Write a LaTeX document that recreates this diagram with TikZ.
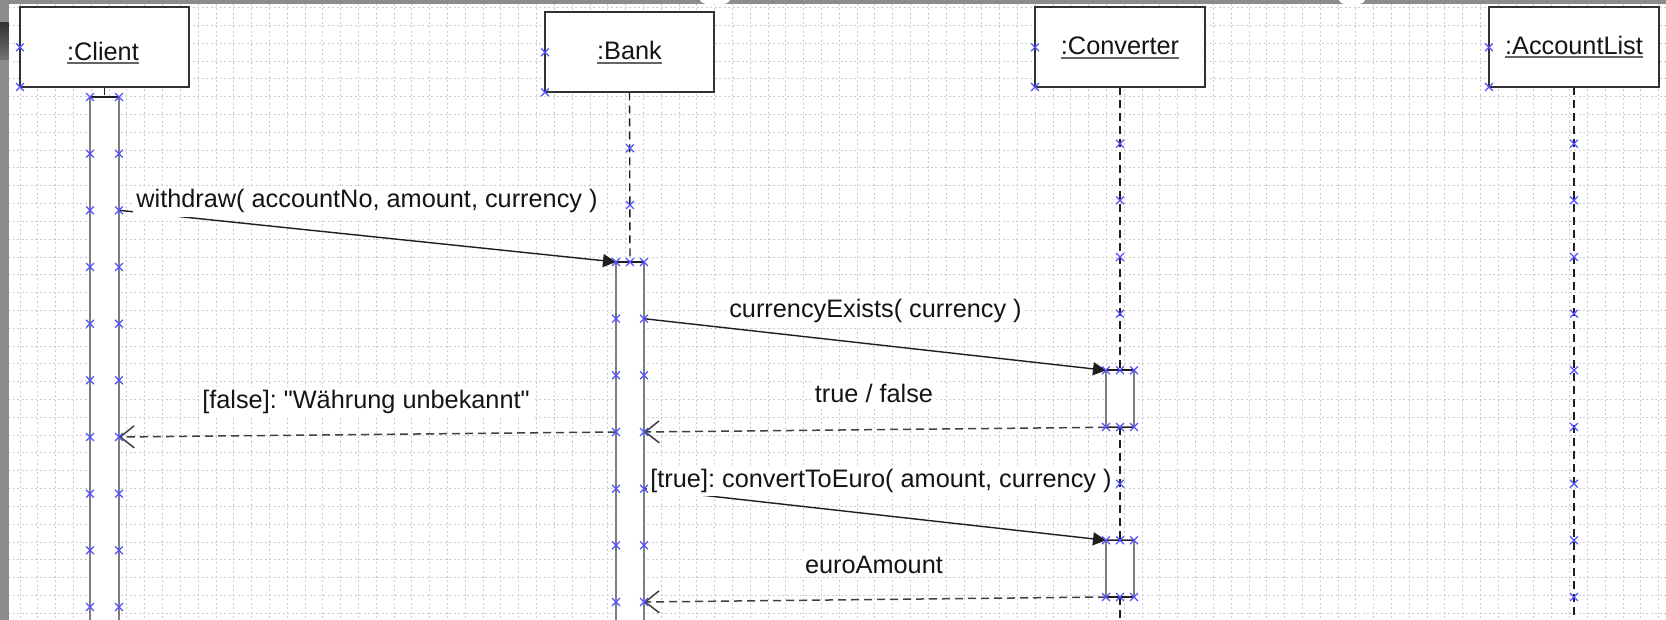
\documentclass[tikz,border=0pt]{standalone}
\usepackage{fontspec}
\setmainfont{Liberation Sans}
\newfontfamily\lsans{Liberation Sans}
\frenchspacing
\usetikzlibrary{arrows.meta,calc}
\definecolor{gridc}{RGB}{205,205,205}
\definecolor{markc}{RGB}{80,80,255}
\definecolor{barc}{RGB}{125,125,125}
\definecolor{linec}{RGB}{30,30,30}
\definecolor{boxc}{RGB}{50,50,50}
\definecolor{stripc}{RGB}{140,140,140}
\definecolor{txtc}{RGB}{20,20,20}
\definecolor{ulc}{RGB}{100,100,100}
\begin{document}
\begin{tikzpicture}[x=1pt,y=-1pt,
  gridline/.style={draw=gridc, line width=0.8pt, dash pattern=on 2pt off 2.5pt},
  objbox/.style={draw=boxc, line width=1.8pt, fill=white, minimum width=169.5pt, minimum height=80pt, inner sep=0pt, outer sep=0pt},
  objtitle/.style={inner sep=0pt, outer sep=0pt, font=\lsans\frenchspacing\fontsize{25.3}{30}\selectfont, text=txtc, anchor=base},
  titleline/.style={draw=ulc, line width=1.6pt},
  actbar/.style={draw=barc, line width=1.8pt, fill=white, inner sep=0pt, outer sep=0pt, anchor=north},
  baredge/.style={draw=linec, line width=1.6pt},
  lifeline/.style={draw=linec, line width=1.4pt, dash pattern=on 8pt off 5pt},
  msg/.style={draw=linec, line width=1.4pt, -{Triangle[length=13pt,width=13pt]}},
  ret/.style={draw=black!75, line width=1.5pt, dash pattern=on 8pt off 5pt, -{Straight Barb[length=14pt,width=22pt]}},
  lbl/.style={fill=white, inner xsep=3pt, inner ysep=4pt, outer sep=0pt, font=\lsans\frenchspacing\fontsize{25.3}{30}\selectfont, text=txtc, anchor=base},
  handle/.style={draw=markc, line width=1.2pt}
]
\clip (0,0) rectangle (1666,620);
\fill[white] (0,0) rectangle (1666,620);
% grid
\foreach \k in {0,...,92} {\draw[gridline] ({20+17.81*\k},4) -- ({20+17.81*\k},620);}
\foreach \k in {0,...,34} {\draw[gridline] (8,{7.6+17.81*\k}) -- (1666,{7.6+17.81*\k});}
% window edges
\fill[stripc] (0,0) rectangle (8.5,620);
\shade[top color=black!80, bottom color=black!55] (0,23) rectangle (8.5,60);
\fill[stripc] (0,0) rectangle (1666,4);
\fill[white] (715,0) ellipse [x radius=15pt, y radius=5pt];
\fill[white] (1352,0) ellipse [x radius=13pt, y radius=5pt];

% object boxes
\node[objbox] (client) at (104.5,47.3) {};
\node[objbox] (bank) at (629.5,52.3) {};
\node[objbox] (conv) at (1120,47.3) {};
\node[objbox] (alist) at (1574,47.3) {};
\node[objtitle] (tclient) at (103,60.5) {:Client};
\node[objtitle] (tbank) at (629.5,60) {:Bank};
\node[objtitle] (tconv) at (1120,55) {:Converter};
\node[objtitle] (talist) at (1574,54.5) {:AccountList};
\foreach \t in {tclient,tbank,tconv,talist}
  {\draw[titleline] ([yshift=-2.8pt]\t.base west) -- ([yshift=-2.8pt]\t.base east);}

% activation bars
\node[actbar, minimum width=29pt, minimum height=560pt] (cbar) at (104.5,97) {};
\node[actbar, minimum width=28pt, minimum height=400pt] (bbar) at (630,262) {};
\node[actbar, minimum width=28pt, minimum height=57pt] (vbar1) at (1120,370.3) {};
\node[actbar, minimum width=28pt, minimum height=56.7pt] (vbar2) at (1120,540.3) {};
\draw[baredge] (cbar.north west) -- (cbar.north east);
\draw[baredge] (bbar.north west) -- (bbar.north east);
\draw[baredge] (vbar1.north west) -- (vbar1.north east);
\draw[baredge] (vbar1.south west) -- (vbar1.south east);
\draw[baredge] (vbar2.north west) -- (vbar2.north east);
\draw[baredge] (vbar2.south west) -- (vbar2.south east);

% lifelines
\coordinate (cend) at (1120,625);
\coordinate (aend) at (1574,625);
\draw[lifeline] (client.south) -- (cbar.north);
\draw[lifeline] (bank.south) -- (bbar.north);
\draw[lifeline] (conv.south) -- (vbar1.north);
\draw[lifeline] (vbar1.south) -- (vbar2.north);
\draw[lifeline] (vbar2.south) -- (cend);
\draw[lifeline] (alist.south) -- (aend);

% messages
\coordinate (w0) at (cbar.east |- 0,210.3);
\coordinate (c0) at (bbar.east |- 0,318.7);
\coordinate (r1) at (bbar.east |- 0,432);
\coordinate (f0) at (bbar.west |- 0,432);
\coordinate (f1) at (cbar.east |- 0,437);
\coordinate (e0) at (bbar.east |- 0,488.7);
\coordinate (r2) at (bbar.east |- 0,602);
\draw[msg] (w0) -- (bbar.north west);
\draw[msg] (c0) -- (vbar1.north west);
\draw[ret] (vbar1.south west) -- (r1);
\draw[ret] (f0) -- (f1);
\draw[msg] (e0) -- (vbar2.north west);
\draw[ret] (vbar2.south west) -- (r2);

% message labels
\node[lbl] (l1) at (367,208) {withdraw( accountNo, amount, currency )};
\node[lbl] (l2) at (875.5,317.5) {currencyExists( currency )};
\node[lbl] (l3) at (874,402.5) {true / false};
\node[lbl] (l4) at (366,409) {[false]: "Währung unbekannt"};
\node[lbl] (l5) at (881,487) {[true]: convertToEuro( amount, currency )};
\node[lbl] (l6) at (874,573) {euroAmount};

% selection handles
\path[handle] plot[only marks, mark=x, mark size=5.5pt, mark options={draw=markc, line width=1.2pt}] coordinates {
 (20,47.3) (20,87) (545,52.3) (545,92.3) (1035,47.3) (1035,87) (1489,47.3) (1489,87)
 (630,148.3) (630,205) (630,262)
 (1120,143.7) (1120,200.3) (1120,257) (1120,313.7) (1120,483.7)
 (1106,370.3) (1120,370.3) (1134,370.3) (1106,427) (1120,427) (1134,427)
 (1106,540.3) (1120,540.3) (1134,540.3) (1106,597) (1120,597) (1134,597)
};
\foreach \y in {97,153.7,210.3,267,323.7,380.3,437,493.7,550.3,607}
  {\path[handle] plot[only marks, mark=x, mark size=5.5pt, mark options={draw=markc, line width=1.2pt}] coordinates {(90,\y) (119,\y)};}
\foreach \y in {262,318.7,375.3,432,488.7,545.3,602}
  {\path[handle] plot[only marks, mark=x, mark size=5.5pt, mark options={draw=markc, line width=1.2pt}] coordinates {(616,\y) (644,\y)};}
\foreach \y in {143.7,200.3,257,313.7,370.3,427,483.7,540.3,597}
  {\path[handle] plot[only marks, mark=x, mark size=5.5pt, mark options={draw=markc, line width=1.2pt}] coordinates {(1574,\y)};}
\end{tikzpicture}
\end{document}
